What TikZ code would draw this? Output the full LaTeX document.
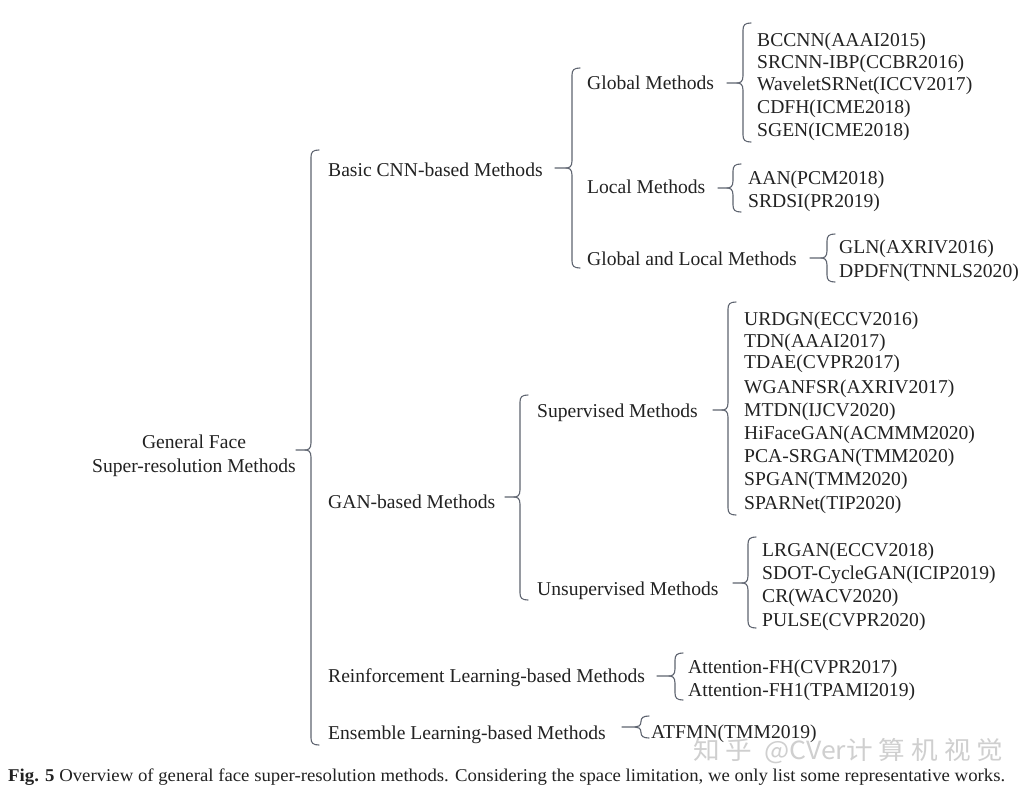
\documentclass[tikz,border=0pt]{standalone}
\usepackage{fontspec}
\usepackage{graphicx}
\setmainfont{Liberation Serif}
\newfontfamily\cjkwm{Noto Sans CJK SC}
\definecolor{txt}{HTML}{222222}
\definecolor{brc}{HTML}{5E6470}
\definecolor{wm}{HTML}{CFCFCF}
\tikzset{
  lbl/.style={anchor=base west, inner sep=0pt, text=txt, font=\fontsize{19.6}{24}\selectfont},
  brc/.style={draw=brc, line width=1.1pt, line cap=round, line join=round},
}
% x, top, bottom, mid, tipx
\newcommand\fsbrace[5]{%
  \pgfmathsetmacro\fsr{min(7,(#3-#2)/4)}%
  \draw[brc] (#1+8,#2) .. controls (#1+2,#2) and (#1,#2+2) .. (#1,#2+\fsr)
     -- (#1,#4-\fsr) .. controls (#1,#4-1) and (#1-3,#4) .. (#1-6,#4) -- (#5,#4);
  \draw[brc] (#1-6,#4) .. controls (#1-3,#4) and (#1,#4+1) .. (#1,#4+\fsr)
     -- (#1,#3-\fsr) .. controls (#1,#3-2) and (#1+2,#3) .. (#1+8,#3);
}
\begin{document}
\begin{tikzpicture}[x=1pt,y=-1pt]
\useasboundingbox[fill=white] (0,0) rectangle (1025,789);

% root
\node[text=txt, align=center, font=\fontsize{19.6}{24}\selectfont, inner sep=0pt] (root) at (194,456)
  {General Face\\Super-resolution Methods};
\fsbrace{311}{150}{745}{450}{296}

% level 1
\node[lbl] (basic) at (328,176) {Basic CNN-based Methods};
\node[lbl] (gan) at (328,508) {GAN-based Methods};
\node[lbl] (rl) at (328,682) {Reinforcement Learning-based Methods};
\node[lbl] (ens) at (328,739) {Ensemble Learning-based Methods};

% Basic CNN
\fsbrace{572}{68}{268}{168}{555}
\node[lbl] (glob) at (587,90) {Global Methods};
\node[lbl] (loc) at (587,193) {Local Methods};
\node[lbl] (gl) at (587,265) {Global and Local Methods};

\fsbrace{743}{23}{142}{83}{727}
\node[lbl] (g1) at (757,47) {BCCNN(AAAI2015)};
\node[lbl] (g2) at (757,69) {SRCNN-IBP(CCBR2016)};
\node[lbl] (g3) at (757,91) {WaveletSRNet(ICCV2017)};
\node[lbl] (g4) at (757,114) {CDFH(ICME2018)};
\node[lbl] (g5) at (757,137) {SGEN(ICME2018)};

\fsbrace{733}{164}{212}{188}{718}
\node[lbl] (l1) at (748,184) {AAN(PCM2018)};
\node[lbl] (l2) at (748,207) {SRDSI(PR2019)};

\fsbrace{827}{234}{282}{258}{810}
\node[lbl] (gl1) at (839,253) {GLN(AXRIV2016)};
\node[lbl] (gl2) at (839,277) {DPDFN(TNNLS2020)};

% GAN
\fsbrace{520}{395}{600}{497}{505}
\node[lbl] (sup) at (537,417) {Supervised Methods};
\node[lbl] (uns) at (537,595) {Unsupervised Methods};

\fsbrace{728}{302}{515}{410}{713}
\node[lbl] (s1) at (744,325) {URDGN(ECCV2016)};
\node[lbl] (s2) at (744,347) {TDN(AAAI2017)};
\node[lbl] (s3) at (744,368) {TDAE(CVPR2017)};
\node[lbl] (s4) at (744,393) {WGANFSR(AXRIV2017)};
\node[lbl] (s5) at (744,416) {MTDN(IJCV2020)};
\node[lbl] (s6) at (744,439) {HiFaceGAN(ACMMM2020)};
\node[lbl] (s7) at (744,462) {PCA-SRGAN(TMM2020)};
\node[lbl] (s8) at (744,485) {SPGAN(TMM2020)};
\node[lbl] (s9) at (744,509) {SPARNet(TIP2020)};

\fsbrace{748}{537}{628}{583}{733}
\node[lbl] (u1) at (762,556) {LRGAN(ECCV2018)};
\node[lbl] (u2) at (762,579) {SDOT-CycleGAN(ICIP2019)};
\node[lbl] (u3) at (762,602) {CR(WACV2020)};
\node[lbl] (u4) at (762,626) {PULSE(CVPR2020)};

% RL
\fsbrace{675}{653}{700}{676}{657}
\node[lbl] (r1) at (688,673) {Attention-FH(CVPR2017)};
\node[lbl] (r2) at (688,696) {Attention-FH1(TPAMI2019)};

% Ensemble
\fsbrace{641}{716}{738}{727}{622}
\node[lbl] (e1) at (651,738) {ATFMN(TMM2019)};

% watermark
\node[anchor=west, inner sep=0pt, text=wm] (wmk) at (693,751)
  {\resizebox{310pt}{\height}{\cjkwm\fontsize{25}{28}\selectfont 知 乎\ \ @CVer计 算 机 视 觉}};

% caption
\node[anchor=base west, inner sep=0pt, text=txt] (cap) at (8,781)
  {\resizebox{997pt}{\height}{\fontsize{18}{20}\selectfont\textbf{Fig. 5} Overview of general face super-resolution methods. Considering the space limitation, we only list some representative works.}};
\end{tikzpicture}
\end{document}
